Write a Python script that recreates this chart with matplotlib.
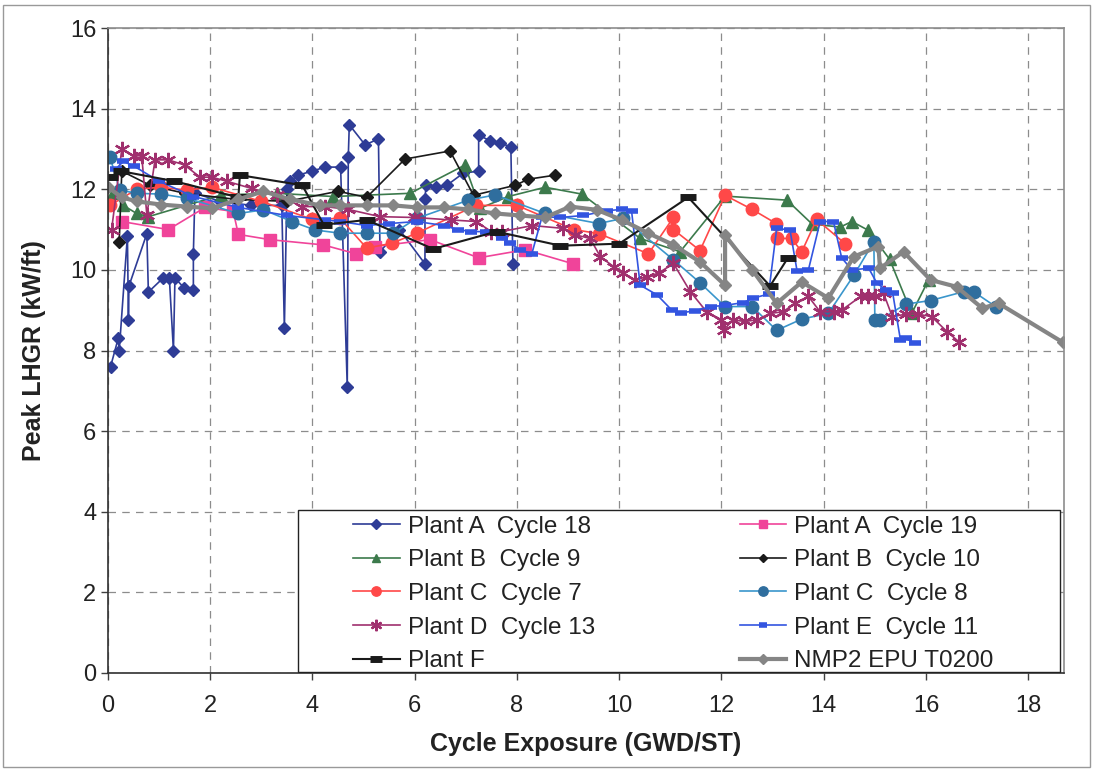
import matplotlib
matplotlib.use("Agg")
import matplotlib.pyplot as plt
from matplotlib.patches import Rectangle

plt.rcParams['font.family'] = ['Liberation Sans', 'DejaVu Sans']

# Plant A Cycle 18
a18_x = [0.05, 0.2, 0.22, 0.38, 0.40, 0.41, 0.76, 0.79, 1.08, 1.2, 1.28, 1.31, 1.49, 1.67, 1.67, 1.7,
         2.2, 2.8, 3.4, 3.45, 3.5, 3.56, 3.72, 3.99, 4.25, 4.55, 4.68, 4.7, 4.72, 5.03, 5.29, 5.32,
         5.7, 6.2, 6.2, 6.22, 6.42, 6.63, 6.95, 7.25, 7.25, 7.47, 7.67, 7.88, 7.92]
a18_y = [7.6, 8.3, 8.0, 10.85, 8.75, 9.6, 10.9, 9.45, 9.8, 9.8, 8.0, 9.8, 9.55, 9.5, 10.4, 11.9,
         11.7, 11.6, 11.6, 8.55, 12.0, 12.2, 12.35, 12.45, 12.55, 12.55, 7.1, 12.8, 13.6, 13.1, 13.25, 10.45,
         11.0, 10.15, 11.75, 12.1, 12.05, 12.1, 12.4, 12.45, 13.35, 13.2, 13.15, 13.05, 10.15]

# Plant A Cycle 19
a19_x = [0.27, 1.18, 1.9, 2.45, 2.55, 3.17, 4.21, 4.85, 5.22, 6.3, 7.25, 8.16, 9.1]
a19_y = [11.2, 11.0, 11.55, 11.45, 10.88, 10.75, 10.62, 10.4, 10.58, 10.75, 10.3, 10.5, 10.15]

# Plant B Cycle 9
b9_x = [0.1, 0.3, 0.56, 0.79, 2.22, 3.3, 4.41, 5.91, 6.98, 7.28, 7.83, 8.55, 9.27, 10.41, 11.19,
        12.07, 13.28, 13.77, 14.32, 14.55, 14.86, 15.29, 15.72, 16.05]
b9_y = [11.9, 11.6, 11.4, 11.32, 11.86, 11.9, 11.82, 11.9, 12.6, 11.53, 11.82, 12.05, 11.88, 10.78, 10.45,
        11.83, 11.73, 11.14, 11.06, 11.2, 10.99, 10.26, 8.92, 9.75]

# Plant B Cycle 10
b10_x = [0.22, 0.27, 0.82, 1.5, 2.5, 3.5, 4.5, 5.06, 5.81, 6.69, 7.15, 7.97, 8.22, 8.75]
b10_y = [10.7, 12.45, 12.1, 11.9, 11.75, 11.7, 11.95, 11.8, 12.75, 12.95, 11.85, 12.1, 12.25, 12.35]

# Plant C Cycle 7
c7_x = [0.04, 0.56, 1.03, 1.54, 2.03, 3.0, 4.0, 4.54, 5.06, 5.55, 6.04, 7.2, 8.0, 9.11, 9.6, 10.57,
        11.06, 11.06, 11.58, 12.07, 12.6, 13.07, 13.08, 13.37, 13.57, 13.86, 14.42]
c7_y = [11.6, 12.0, 12.05, 11.98, 12.05, 11.7, 11.25, 11.28, 10.54, 10.66, 10.91, 11.6, 11.6, 11.0, 10.9, 10.4,
        11.3, 11.0, 10.48, 11.85, 11.5, 11.15, 10.78, 10.78, 10.45, 11.25, 10.65]

# Plant C Cycle 8
c8_x = [0.04, 0.23, 0.56, 1.04, 1.54, 2.55, 3.04, 3.6, 4.05, 4.54, 5.06, 5.58, 6.04, 7.05, 7.57, 8.55,
        9.6, 10.08, 11.06, 11.58, 12.07, 12.6, 13.08, 13.57, 14.09, 14.59, 14.98, 15.0, 15.1, 15.6,
        16.09, 16.74, 16.93, 17.36]
c8_y = [12.8, 11.98, 11.9, 11.88, 11.78, 11.4, 11.49, 11.2, 10.99, 10.91, 10.91, 10.91, 11.28, 11.73, 11.86, 11.4,
        11.15, 11.28, 10.25, 9.68, 9.09, 9.09, 8.5, 8.78, 8.92, 9.87, 10.7, 8.76, 8.76, 9.15,
        9.24, 9.46, 9.46, 9.09]

# Plant D Cycle 13
d13_x = [0.07, 0.27, 0.5, 0.66, 0.76, 0.92, 1.18, 1.5, 1.8, 2.03, 2.32, 2.81, 3.3, 3.79, 4.25, 4.7,
         5.32, 6.0, 6.7, 7.2, 7.5, 7.7, 8.3, 8.9, 9.14, 9.43, 9.63, 9.89, 10.08, 10.31, 10.54, 10.77,
         11.06, 11.39, 11.71, 12.0, 12.04, 12.23, 12.45, 12.7, 12.95, 13.2, 13.44, 13.7, 13.93, 14.2,
         14.35, 14.72, 14.86, 15.0, 15.17, 15.34, 15.6, 15.85, 16.11, 16.41, 16.64]
d13_y = [10.99, 13.0, 12.83, 12.83, 11.36, 12.73, 12.73, 12.6, 12.3, 12.3, 12.2, 12.02, 11.86, 11.57, 11.57, 11.5,
         11.32, 11.3, 11.24, 11.2, 10.95, 10.95, 11.1, 11.03, 10.87, 10.78, 10.33, 10.08, 9.92, 9.75, 9.83, 9.92,
         10.16, 9.46, 8.96, 8.76, 8.51, 8.76, 8.72, 8.76, 8.92, 8.96, 9.17, 9.34, 8.96, 8.96,
         9.0, 9.34, 9.34, 9.34, 9.42, 8.84, 8.9, 8.9, 8.84, 8.47, 8.22]

# Plant E Cycle 11
e11_x = [0.15, 0.3, 0.5, 1.0, 1.67, 2.55, 3.5, 4.25, 4.54, 5.06, 5.5, 6.04, 6.57, 6.85, 7.1, 7.4,
         7.7, 7.87, 8.06, 8.29, 8.49, 8.85, 9.3, 9.76, 10.06, 10.24, 10.41, 10.74, 11.03, 11.2, 11.49,
         11.8, 12.07, 12.43, 12.62, 12.92, 13.08, 13.34, 13.48, 13.7, 13.93, 14.19, 14.35, 14.55,
         14.88, 15.04, 15.22, 15.35, 15.5, 15.6, 15.79]
e11_y = [12.5, 12.69, 12.58, 12.2, 11.82, 11.55, 11.35, 11.24, 11.2, 11.1, 11.15, 11.2, 11.1, 11.0, 10.95, 10.95,
         10.8, 10.66, 10.5, 10.4, 11.32, 11.3, 11.35, 11.47, 11.5, 11.47, 9.62, 9.38, 9.0, 8.93, 8.99,
         9.09, 9.12, 9.19, 9.3, 9.4, 11.03, 10.99, 9.96, 10.0, 11.2, 11.2, 10.3, 10.0,
         10.04, 9.67, 9.5, 9.42, 8.26, 8.3, 8.18]

# Plant F
f_x = [0.04, 0.25, 1.3, 2.55, 2.58, 3.8, 4.22, 5.06, 6.36, 7.6, 8.85, 10.0, 11.35, 12.95, 13.3]
f_y = [12.3, 12.45, 12.2, 11.8, 12.35, 12.1, 11.12, 11.24, 10.52, 10.95, 10.6, 10.65, 11.8, 9.6, 10.3]

# NMP2 EPU T0200
nmp_x = [0.0, 0.27, 0.56, 1.04, 1.54, 2.03, 2.55, 3.04, 3.56, 4.15, 4.54, 5.06, 5.58, 6.04, 6.57, 7.05,
         7.57, 8.05, 8.55, 9.04, 9.56, 10.05, 10.57, 11.06, 11.58, 12.07, 12.07, 12.6, 13.08, 13.57,
         14.09, 14.59, 15.07, 15.1, 15.56, 16.09, 16.6, 17.1, 17.42, 18.68]
nmp_y = [12.05, 11.8, 11.7, 11.62, 11.57, 11.53, 11.75, 11.95, 11.75, 11.6, 11.6, 11.6, 11.6, 11.55, 11.55, 11.5,
         11.4, 11.35, 11.3, 11.57, 11.49, 11.24, 10.91, 10.62, 10.2, 9.62, 10.86, 10.0, 9.17, 9.7,
         9.3, 10.33, 10.58, 10.04, 10.45, 9.75, 9.58, 9.05, 9.17, 8.2]

fig = plt.figure(figsize=(10.93, 7.70), dpi=100)
ax = fig.add_axes([0.0988, 0.126, 0.8747, 0.8376])

lines = {}
lines['A18'], = ax.plot(a18_x, a18_y, color='#2E3C96', lw=1.2, marker='D', ms=6.5, label='Plant A  Cycle 18')
lines['A19'], = ax.plot(a19_x, a19_y, color='#F0449A', lw=1.2, marker='s', ms=8, label='Plant A  Cycle 19')
lines['B9'], = ax.plot(b9_x, b9_y, color='#3C7A4C', lw=1.2, marker='^', ms=8, label='Plant B  Cycle 9')
lines['B10'], = ax.plot(b10_x, b10_y, color='#1A1A1A', lw=1.2, marker='D', ms=6, label='Plant B  Cycle 10')
lines['C7'], = ax.plot(c7_x, c7_y, color='#FF4848', lw=1.2, marker='o', ms=9, label='Plant C  Cycle 7')
lines['C8'], = ax.plot(c8_x, c8_y, color='#3A96CC', lw=1.2, marker='o', ms=9, mfc='#2F6E9E', mec='#2F6E9E',
                       label='Plant C  Cycle 8')
lines['D13'], = ax.plot(d13_x, d13_y, color='#A0306E', lw=1.2, marker=(6, 2, 0), ms=11, mew=1.6,
                        label='Plant D  Cycle 13')
lines['E11'], = ax.plot(e11_x, e11_y, color='#3355E0', lw=1.2, marker='_', ms=8, mew=4, label='Plant E  Cycle 11')
lines['F'], = ax.plot(f_x, f_y, color='#1A1A1A', lw=1.5, marker='_', ms=11, mew=5, label='Plant F')
lines['NMP'], = ax.plot(nmp_x, nmp_y, color='#858585', lw=3, marker='D', ms=6.5, label='NMP2 EPU T0200')

ax.set_xlim(0, 18.7)
ax.set_ylim(0, 16)
ax.set_xticks(range(0, 19, 2))
ax.set_yticks(range(0, 17, 2))
ax.tick_params(labelsize=17, direction='out', length=5, width=1, color='#404040', labelcolor='#222222')
ax.tick_params(axis='x', pad=11)
ax.grid(True, color='#8c8c8c', linestyle=(0, (6, 5)), linewidth=0.9)
for side in ['top', 'right']:
    ax.spines[side].set_color('#8c8c8c')
for side in ['left', 'bottom']:
    ax.spines[side].set_color('#303030')
for s in ax.spines.values():
    s.set_linewidth(1.2)

ax.set_xlabel('Cycle Exposure (GWD/ST)', fontsize=18, fontweight='bold', labelpad=11, color='#222222')
ax.set_ylabel('Peak LHGR (kW/ft)', fontsize=18, fontweight='bold', labelpad=17, color='#222222')

# legend box drawn separately so the entries can sit inset from its left edge
box = Rectangle((0.1987, 0.0016), 0.797, 0.251, transform=ax.transAxes, facecolor='white',
                edgecolor='#222222', lw=1.0, zorder=4)
ax.add_patch(box)

order = ['A18', 'B9', 'C7', 'D13', 'F', 'A19', 'B10', 'C8', 'E11', 'NMP']
leg = ax.legend([lines[k] for k in order], [lines[k].get_label() for k in order],
                ncol=2, loc='upper left', bbox_to_anchor=(0.256, 0.244),
                fontsize=17.5, frameon=False, handlelength=1.93, handletextpad=0.33,
                labelspacing=0.48, columnspacing=5.95, borderaxespad=0, borderpad=0,
                markerscale=0.75)
leg.set_zorder(5)
for t in leg.get_texts():
    t.set_color('#222222')

# outer frame around the whole figure
fig.patches.append(Rectangle((0.003, 0.004), 0.994, 0.99, transform=fig.transFigure,
                             fill=False, edgecolor='#999999', lw=1))

fig.savefig('out.png', dpi=100)
